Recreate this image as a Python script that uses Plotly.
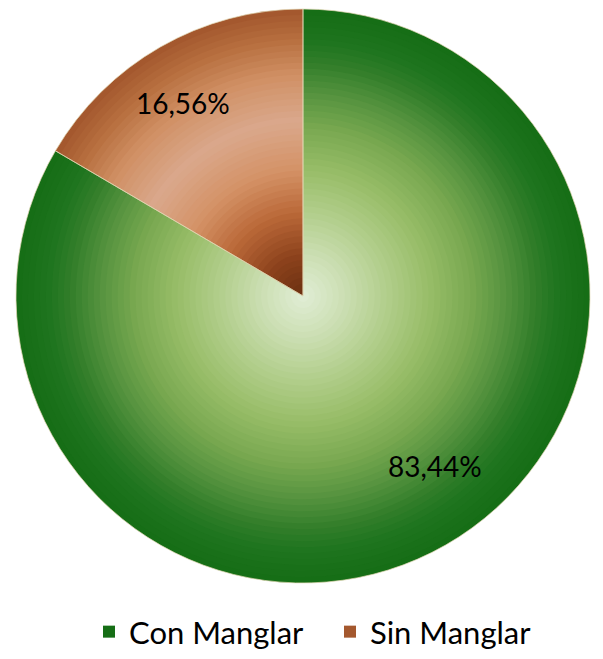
import plotly.graph_objects as go
import numpy as np

# ---- data ----
labels = ["Con Manglar", "Sin Manglar"]
values = [83.44, 16.56]
text_labels = ["83,44%", "16,56%"]

# ---- radial gradient profiles (fraction of radius -> colour) ----
green_stops = [(0.0, (226, 238, 216)), (0.15, (204, 223, 180)), (0.3, (178, 206, 140)),
               (0.45, (152, 189, 104)), (0.6, (120, 168, 80)), (0.72, (84, 146, 62)),
               (0.82, (50, 126, 42)), (0.9, (30, 116, 30)), (1.0, (22, 110, 22))]
orange_stops = [(0.0, (104, 46, 16)), (0.15, (140, 66, 28)), (0.3, (186, 104, 56)),
                (0.45, (212, 146, 102)), (0.62, (218, 168, 140)), (0.78, (208, 144, 100)),
                (0.9, (184, 112, 64)), (1.0, (164, 88, 46))]


def interp(stops, t):
    for (t0, c0), (t1, c1) in zip(stops[:-1], stops[1:]):
        if t0 <= t <= t1:
            f = (t - t0) / (t1 - t0) if t1 > t0 else 0
            c = [round(a + (b - a) * f) for a, b in zip(c0, c1)]
            return "rgb(%d,%d,%d)" % tuple(c)
    return "rgb(%d,%d,%d)" % stops[-1][1]


W, H = 603, 659
OFF = 8  # page body margin
CX, CY, R = 303 - OFF, 296 - OFF, 287
N = 48


def dom(r):
    return dict(x=[(CX - r) / W, (CX + r) / W], y=[1 - (CY + r) / H, 1 - (CY - r) / H])


fig = go.Figure()
for i in range(N):
    t = 1 - i / N
    fig.add_trace(go.Pie(
        labels=labels, values=values, sort=False, direction="clockwise", rotation=0,
        domain=dom(R * t),
        marker=dict(colors=[interp(green_stops, t), interp(orange_stops, t)],
                    line=dict(width=0)),
        textinfo="none", hoverinfo="skip",
        showlegend=(i == 0),
    ))

# transparent top layer with slice outlines
fig.add_trace(go.Pie(
    labels=labels, values=values, sort=False, direction="clockwise", rotation=0,
    domain=dom(R),
    marker=dict(colors=["rgba(0,0,0,0)", "rgba(0,0,0,0)"],
                line=dict(width=1, color="rgba(225,215,180,0.7)")),
    textinfo="none", hoverinfo="skip", showlegend=False,
))

# data labels placed along each slice's mid-angle
label_radius = [0.75, 0.79]
label_angle_shift = [-8, -2]
total = sum(values)
cum = 0
for v, txt, rf, da in zip(values, text_labels, label_radius, label_angle_shift):
    mid = (cum + v / 2) / total * 360 + da
    cum += v
    a = np.deg2rad(mid)
    px = CX + rf * R * np.sin(a)
    py = CY - rf * R * np.cos(a)
    fig.add_annotation(x=px / W, y=1 - py / H, xref="paper", yref="paper",
                       text=txt, showarrow=False, xanchor="center", yanchor="middle",
                       font=dict(family="Lato, Noto Sans, sans-serif", size=28, color="black"))

fig.update_layout(
    width=W, height=H,
    margin=dict(l=0, r=0, t=0, b=0),
    paper_bgcolor="white", plot_bgcolor="white",
    legend=dict(orientation="h", x=(330 - OFF) / W, xanchor="center",
                y=1 - (632 - OFF) / H, yanchor="middle",
                font=dict(family="Lato, Noto Sans, sans-serif", size=31, color="black"),
                entrywidth=196, entrywidthmode="pixels"),
)

fig.write_html("out.html")
